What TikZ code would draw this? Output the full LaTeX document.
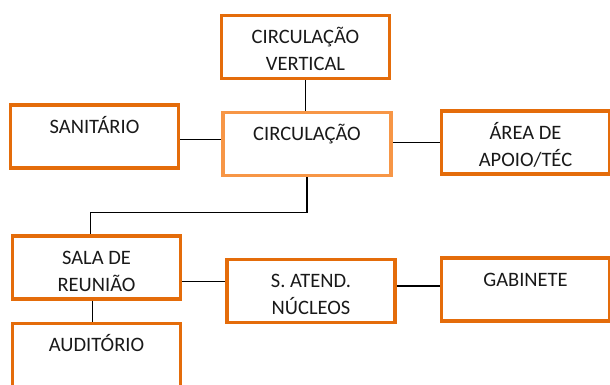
\documentclass[tikz,border=0pt]{standalone}
\usepackage{fontspec}
\setmainfont{Carlito}
\usepackage{xcolor}
\usepackage{tikz}
\usetikzlibrary{positioning}
\definecolor{darkorange}{HTML}{E46C0A}
\definecolor{lightorange}{HTML}{F79646}
\tikzset{edge/.style = {-, black, line width=1.2pt}}

\begin{document}
\begin{tikzpicture}[x=1pt,y=-1pt,room/.style={draw=darkorange,line width=3.5pt,minimum width=168pt,minimum height=63pt,inner sep=0pt},room text/.style={anchor=base,align=center,inner sep=0pt,text=black!90,font=\fontsize{20.5}{27}\selectfont}]
                    \useasboundingbox (0,0) rectangle (610,385);
                    \clip (0,0) rectangle (610,385);
                    \node[room] (1) at (305.5,47) {};
                    \node[room] (2) at (94.5,136.5) {};
                    \node[room,draw=lightorange] (3) at (307,144) {};
                    \node[room] (4) at (525.5,142.5) {};
                    \node[room] (5) at (96.5,267.5) {};
                    \node[room] (6) at (311,291) {};
                    \node[room] (7) at (525.5,289.5) {};
                    \node[room] (8) at (96.5,355) {};

                    \node[room text] (t1) at ([yshift=-57pt]1.north) {CIRCULAÇÃO\\VERTICAL};
                    \node[room text] (t2) at ([yshift=-30pt]2.north) {SANITÁRIO};
                    \node[room text] (t3) at ([yshift=-30pt]3.north) {CIRCULAÇÃO};
                    \node[room text] (t4) at ([yshift=-57pt]4.north) {ÁREA DE\\APOIO/TÉC};
                    \node[room text] (t5) at ([yshift=-57pt]5.north) {SALA DE\\REUNIÃO};
                    \node[room text] (t6) at ([yshift=-57pt]6.north) {S. ATEND.\\NÚCLEOS};
                    \node[room text] (t7) at ([yshift=-30pt]7.north) {GABINETE};
                    \node[room text] (t8) at ([yshift=-30pt]8.north) {AUDITÓRIO};

                    \draw[edge] (1.south) -- (1.south |- 3.north);
                    \draw[edge] ([yshift=-3pt]2.east) -- ([yshift=-3pt]2.east -| 3.west);
                    \draw[edge] (3.east |- 4.west) -- (4.west);
                    \draw[edge] (3.south) -- ++(0,35) -| ([xshift=-6pt]5.north);
                    \draw[edge] ([yshift=-14pt]5.east) -- ([yshift=-14pt]5.east -| 6.west);
                    \draw[edge] ([yshift=5pt]6.east) -- ([yshift=5pt]6.east -| 7.west);
                    \draw[edge] ([xshift=-4pt]5.south) -- ([xshift=-4pt]5.south |- 8.north);
                \end{tikzpicture}
\end{document}
